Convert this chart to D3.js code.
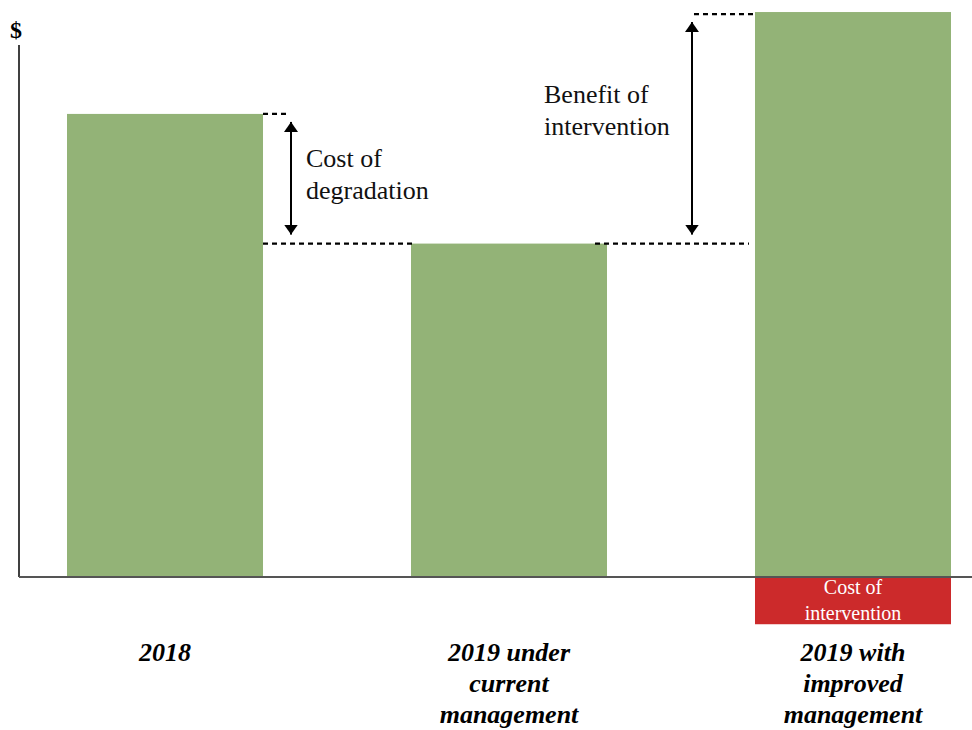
<!DOCTYPE html>
<html>
<head>
<meta charset="utf-8">
<script src="https://cdn.jsdelivr.net/npm/d3@7"></script>
<style>
  html, body { margin: 0; padding: 0; background: #fff; }
  svg { display: block; }
</style>
</head>
<body>
<svg id="chart" width="972" height="730"></svg>
<script>
// Value of the asset ($) in each scenario
const categories = ["2018", "2019 under current management", "2019 with improved management"];
const categoryLines = [["2018"], ["2019 under", "current", "management"], ["2019 with", "improved", "management"]];
const values = [100, 72, 122];
const interventionCost = -10.2;   // drawn below the axis under the third bar
const costLabel = ["Cost of", "intervention"];
const degradationLabel = ["Cost of", "degradation"];
const benefitLabel = ["Benefit of", "intervention"];

const green = "#93b377";
const red = "#cc2a2b";
const serif = "'Liberation Serif', 'Times New Roman', 'DejaVu Serif', serif";

const svg = d3.select("#chart");
const W = 972;
const axisX = 19, axisTop = 45;

const x = d3.scaleBand()
  .domain(categories)
  .range([67, 951])
  .paddingInner(0.4302)
  .paddingOuter(0);

const y = d3.scaleLinear()
  .domain([0, 124.6])
  .range([577, 0]);

const bw = x.bandwidth();

// bars
svg.append("g").selectAll("rect")
  .data(categories)
  .join("rect")
  .attr("x", d => x(d))
  .attr("width", bw)
  .attr("y", (d, i) => y(values[i]))
  .attr("height", (d, i) => y(0) - y(values[i]))
  .attr("fill", green);

// cost of intervention (negative bar)
const cCat = categories[2];
svg.append("rect")
  .attr("x", x(cCat))
  .attr("width", bw)
  .attr("y", y(0))
  .attr("height", y(interventionCost) - y(0))
  .attr("fill", red);

svg.append("text")
  .attr("font-family", serif)
  .attr("text-anchor", "middle")
  .attr("fill", "#fff")
  .attr("font-size", 20)
  .selectAll("tspan")
  .data(costLabel)
  .join("tspan")
  .attr("x", x(cCat) + bw / 2)
  .attr("y", (d, i) => y(0) + 17 + i * 26)
  .text(d => d);

// axes
svg.append("line")
  .attr("x1", axisX).attr("x2", axisX)
  .attr("y1", axisTop).attr("y2", y(0))
  .attr("stroke", "#000").attr("stroke-width", 1.5);

svg.append("line")
  .attr("x1", axisX).attr("x2", W)
  .attr("y1", y(0)).attr("y2", y(0))
  .attr("stroke", "#555").attr("stroke-width", 2);

svg.append("text")
  .attr("font-family", serif)
  .attr("x", 10).attr("y", 38)
  .attr("font-size", 24).attr("font-weight", "bold")
  .text("$");

// dashed reference lines
const dash = (x1, x2, yy) => svg.append("line")
  .attr("x1", x1).attr("x2", x2).attr("y1", yy).attr("y2", yy)
  .attr("stroke", "#000").attr("stroke-width", 2.2)
  .attr("stroke-dasharray", "5,4");

const c0 = categories[0], c1 = categories[1], c2 = categories[2];
dash(x(c0) + bw, x(c0) + bw + 27, y(values[0]));
dash(x(c0) + bw, x(c1) + 4, y(values[1]));
dash(x(c1) + bw - 12, x(c2) - 6, y(values[1]));
dash(x(c2) - 61, x(c2) - 2, y(values[2]) + 2);

// double-headed arrows
const defs = svg.append("defs");
defs.append("marker")
  .attr("id", "head")
  .attr("viewBox", "0 0 10 14")
  .attr("refX", 10).attr("refY", 7)
  .attr("markerWidth", 10).attr("markerHeight", 14)
  .attr("markerUnits", "userSpaceOnUse")
  .attr("orient", "auto-start-reverse")
  .append("path")
  .attr("d", "M0,0 L10,7 L0,14 Z")
  .attr("fill", "#000");

const arrow = (xx, y1, y2) => svg.append("line")
  .attr("x1", xx).attr("x2", xx).attr("y1", y1).attr("y2", y2)
  .attr("stroke", "#000").attr("stroke-width", 2)
  .attr("marker-start", "url(#head)")
  .attr("marker-end", "url(#head)");

arrow(x(c0) + bw + 28, y(values[0]) + 8, y(values[1]) - 9);
arrow(x(c2) - 63, y(values[2]) + 10, y(values[1]) - 9);

// annotation labels
const label = (lines, lx, ly) => svg.append("text")
  .attr("font-family", serif)
  .attr("font-size", 26)
  .attr("fill", "#111")
  .selectAll("tspan")
  .data(lines)
  .join("tspan")
  .attr("x", lx)
  .attr("y", (d, i) => ly + i * 32)
  .text(d => d);

label(degradationLabel, x(c0) + bw + 43, 167);
label(benefitLabel, 544, 103);

// category labels
svg.append("g").selectAll("text")
  .data(categories)
  .join("text")
  .attr("font-family", serif)
  .attr("text-anchor", "middle")
  .attr("font-size", 26)
  .attr("font-weight", "bold")
  .attr("font-style", "italic")
  .selectAll("tspan")
  .data((d, i) => categoryLines[i].map(t => ({ t, c: d })))
  .join("tspan")
  .attr("x", d => x(d.c) + bw / 2)
  .attr("y", (d, i) => 661 + i * 31)
  .text(d => d.t);
</script>
</body>
</html>
